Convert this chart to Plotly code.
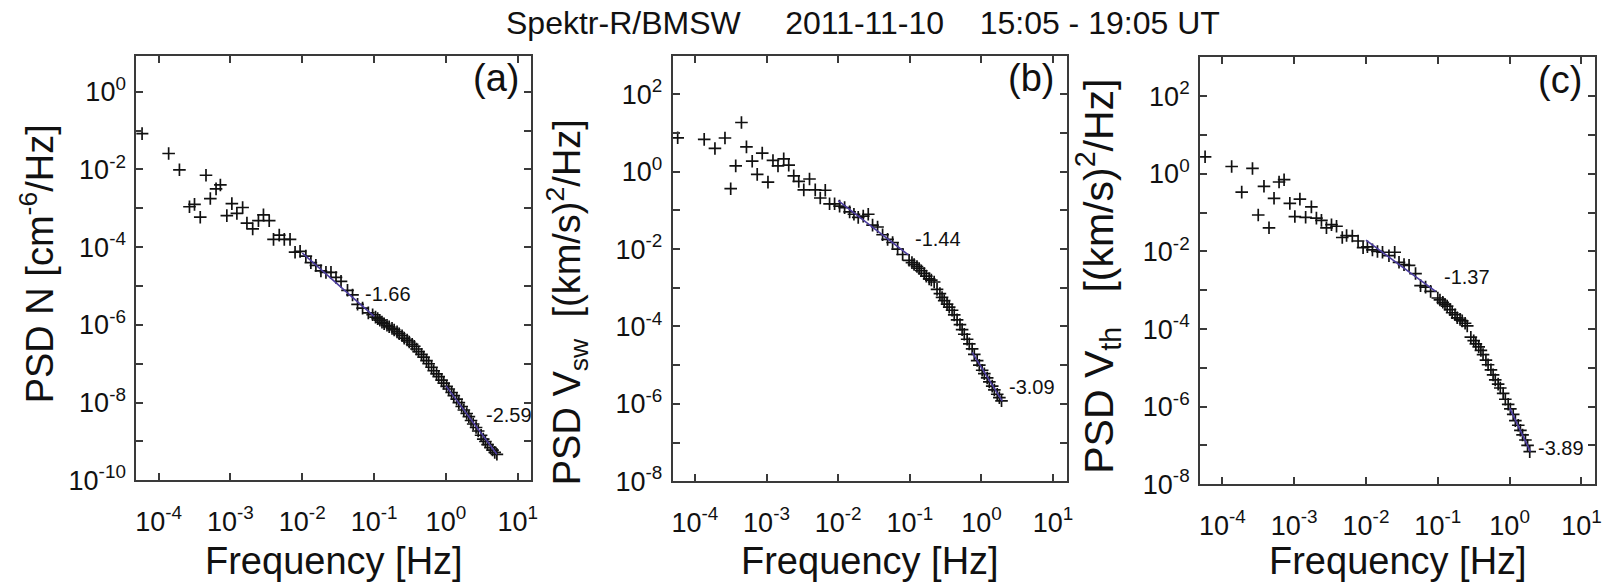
import numpy as np
import plotly.graph_objects as go

W, H = 1621, 584
FONT = "Liberation Sans, Arial, Helvetica, sans-serif"

# ---------------- data (log10 values) ----------------
# Panel (a): density N
a_logf = [-4.23, -3.86, -3.71, -3.57, -3.50, -3.42, -3.34, -3.28, -3.20, -3.14,
          -3.05, -2.98, -2.91, -2.83, -2.77, -2.69, -2.61, -2.54, -2.46, -2.40,
          -2.32, -2.25, -2.17, -2.10, -2.03, -1.95, -1.88, -1.81, -1.74, -1.67,
          -1.60, -1.53, -1.46, -1.37, -1.30, -1.23, -1.16, -1.08, -1.02, -0.98,
          -0.95, -0.92, -0.89, -0.86, -0.82, -0.79, -0.75, -0.72, -0.68, -0.65,
          -0.61, -0.58, -0.54, -0.51, -0.47, -0.44, -0.41, -0.38, -0.34, -0.31,
          -0.27, -0.24, -0.20, -0.17, -0.13, -0.10, -0.06, -0.03, 0.01, 0.04,
          0.08, 0.11, 0.15, 0.18, 0.22, 0.25, 0.29, 0.32, 0.35, 0.38,
          0.42, 0.45, 0.49, 0.52, 0.55, 0.58, 0.62, 0.65, 0.68, 0.71]
a_logpsd = [-1.08, -1.59, -2.01, -2.96, -2.90, -3.23, -2.15, -2.75, -2.50, -2.40,
            -3.19, -2.88, -3.13, -2.98, -3.38, -3.53, -3.32, -3.17, -3.32, -3.80,
            -3.69, -3.80, -3.80, -4.13, -4.11, -4.23, -4.40, -4.47, -4.61, -4.65,
            -4.65, -4.78, -4.88, -5.11, -5.23, -5.47, -5.57, -5.69, -5.74, -5.80,
            -5.84, -5.88, -5.93, -5.97, -6.01, -6.05, -6.09, -6.13, -6.18, -6.23,
            -6.28, -6.34, -6.39, -6.44, -6.50, -6.55, -6.62, -6.69, -6.76, -6.83,
            -6.92, -7.00, -7.09, -7.18, -7.26, -7.33, -7.42, -7.50, -7.58, -7.65,
            -7.74, -7.82, -7.91, -8.00, -8.10, -8.19, -8.28, -8.36, -8.46, -8.55,
            -8.64, -8.73, -8.84, -8.94, -9.00, -9.08, -9.16, -9.22, -9.28, -9.33]

# Panel (b): solar wind velocity
b_logf = [-4.24, -3.87, -3.72, -3.58, -3.50, -3.43, -3.35, -3.28, -3.20, -3.13,
          -3.06, -2.98, -2.91, -2.84, -2.76, -2.69, -2.62, -2.55, -2.48, -2.40,
          -2.32, -2.25, -2.18, -2.12, -2.05, -1.98, -1.91, -1.84, -1.78, -1.72,
          -1.65, -1.58, -1.52, -1.45, -1.38, -1.31, -1.24, -1.17, -1.10, -1.01,
          -0.97, -0.94, -0.90, -0.87, -0.84, -0.80, -0.77, -0.73, -0.70, -0.66,
          -0.62, -0.58, -0.55, -0.52, -0.48, -0.45, -0.41, -0.38, -0.34, -0.30,
          -0.27, -0.24, -0.20, -0.17, -0.13, -0.10, -0.06, -0.03, 0.01, 0.04,
          0.08, 0.11, 0.15, 0.18, 0.22, 0.25, 0.28]
b_logpsd = [0.875, 0.835, 0.60, 0.87, -0.44, 0.15, 1.27, 0.64, 0.27, -0.07,
            0.48, -0.27, 0.29, 0.15, 0.33, 0.17, -0.11, -0.25, -0.47, -0.19,
            -0.47, -0.68, -0.48, -0.83, -0.83, -0.89, -0.93, -1.04, -1.10, -1.18,
            -1.15, -1.10, -1.38, -1.43, -1.63, -1.75, -1.83, -2.00, -2.14, -2.29,
            -2.35, -2.40, -2.45, -2.50, -2.56, -2.63, -2.70, -2.77, -2.80, -2.85,
            -3.04, -3.15, -3.25, -3.33, -3.42, -3.50, -3.58, -3.70, -3.83, -3.95,
            -4.08, -4.20, -4.33, -4.45, -4.58, -4.72, -4.88, -5.00, -5.13, -5.22,
            -5.33, -5.43, -5.54, -5.64, -5.75, -5.84, -5.92]

# Panel (c): thermal velocity
c_logf = [-4.24, -3.87, -3.73, -3.58, -3.50, -3.42, -3.35, -3.28, -3.21, -3.14,
          -3.06, -2.99, -2.92, -2.84, -2.76, -2.69, -2.62, -2.55, -2.48, -2.41,
          -2.33, -2.27, -2.19, -2.11, -2.04, -1.98, -1.91, -1.84, -1.77, -1.68,
          -1.60, -1.54, -1.47, -1.40, -1.31, -1.24, -1.17, -1.10, -1.00, -0.97,
          -0.93, -0.90, -0.87, -0.83, -0.80, -0.76, -0.73, -0.69, -0.66, -0.62,
          -0.59, -0.54, -0.50, -0.47, -0.43, -0.40, -0.37, -0.33, -0.30, -0.26,
          -0.23, -0.20, -0.16, -0.13, -0.09, -0.06, -0.02, 0.01, 0.05, 0.08,
          0.12, 0.15, 0.18, 0.22, 0.25, 0.28]
c_logpsd = [0.44, 0.19, -0.47, 0.14, -1.06, -0.32, -1.39, -0.63, -0.21, -0.15,
            -0.76, -1.10, -0.65, -1.12, -0.85, -1.14, -1.20, -1.39, -1.31, -1.35,
            -1.64, -1.59, -1.60, -1.73, -1.90, -1.88, -1.96, -2.00, -2.02, -2.11,
            -2.02, -2.28, -2.34, -2.36, -2.57, -2.88, -2.92, -3.03, -3.20, -3.25,
            -3.31, -3.36, -3.41, -3.50, -3.58, -3.63, -3.71, -3.75, -3.79, -3.85,
            -3.92, -4.21, -4.30, -4.38, -4.46, -4.55, -4.66, -4.80, -4.92, -5.05,
            -5.18, -5.31, -5.42, -5.52, -5.66, -5.81, -5.94, -6.06, -6.20, -6.36,
            -6.48, -6.61, -6.73, -6.86, -7.00, -7.16]

# Power-law fit segments (end points, log10) and their slopes
a_fit_logf = [[-2.0, -1.0], [0.0, 0.71]]
a_fit_logpsd = [[-4.15, -5.78], [-7.57, -9.33]]
b_fit_logf = [[-2.0, -1.02], [-0.13, 0.29]]
b_fit_logpsd = [[-0.75, -2.15], [-4.67, -5.93]]
c_fit_logf = [[-2.0, -1.03], [0.0, 0.29]]
c_fit_logpsd = [[-1.71, -3.03], [-6.03, -7.16]]
a_slopes = ["-1.66", "-2.59"]
b_slopes = ["-1.44", "-3.09"]
c_slopes = ["-1.37", "-3.89"]

panel_tags = ["(a)", "(b)", "(c)"]
x_tick_exps = [-4, -3, -2, -1, 0, 1]
a_y_exps = list(range(-10, 1))
bc_y_exps = list(range(-8, 3))

NB = "\u00a0"
title_text = "Spektr-R/BMSW" + NB * 5 + "2011-11-10" + NB * 4 + "15:05 - 19:05 UT"
y_titles = ["PSD N [cm<sup>-6</sup>/Hz]",
            "PSD V<sub>sw</sub>" + NB * 2 + "[(km/s)<sup>2</sup>/Hz]",
            "PSD V<sub>th</sub>" + NB * 3 + "[(km/s)<sup>2</sup>/Hz]"]
x_title = "Frequency [Hz]"

# ---------------- layout geometry (pixels) ----------------
boxes = [(136, 533, 57, 493), (675, 1071, 57, 494), (1205, 1602, 59, 497)]
y_ranges = [[-10, 0.93], [-8, 3], [-8, 3]]
x_range = [-4.31, 1.19]

def p2x(px):
    return px / W

def p2y(py):
    return 1 - py / H

def sup_label(e):
    return "10<sup>%d</sup>" % e

fig = go.Figure()

panels = [
    (a_logf, a_logpsd, a_fit_logf, a_fit_logpsd, a_slopes, a_y_exps),
    (b_logf, b_logpsd, b_fit_logf, b_fit_logpsd, b_slopes, bc_y_exps),
    (c_logf, c_logpsd, c_fit_logf, c_fit_logpsd, c_slopes, bc_y_exps),
]
slope_pos = [[(-0.80, -5.20), (0.88, -8.33)],
             [(-0.60, -1.74), (0.70, -5.56)],
             [(-0.59, -2.66), (0.72, -7.06)]]
ytitle_pos = [(36.5, 271), (569, 310), (1102.5, 284)]
ytitle_size = [38, 38, 41]

annotations = []
for i, (lf, lp, ff, fp, sl, yexps) in enumerate(panels):
    n = "" if i == 0 else str(i + 1)
    xa, ya = "x" + n, "y" + n
    fig.add_trace(go.Scatter(
        x=np.power(10.0, lf), y=np.power(10.0, lp), mode="markers",
        marker=dict(symbol="cross-thin", size=9, line=dict(width=1.7, color="#111111")),
        xaxis=xa, yaxis=ya, showlegend=False, hoverinfo="x+y"))
    for seg_f, seg_p in zip(ff, fp):
        fig.add_trace(go.Scatter(
            x=np.power(10.0, seg_f), y=np.power(10.0, seg_p), mode="lines",
            line=dict(color="#4b3c9e", width=1.6),
            xaxis=xa, yaxis=ya, showlegend=False, hoverinfo="skip"))
    x0, x1, y0, y1 = boxes[i]
    axis_common = dict(type="log", showgrid=False, zeroline=False,
                       showline=True, linecolor="#3a3a3a", linewidth=2,
                       mirror="ticks", ticks="inside", ticklen=7, tickwidth=1.5,
                       tickcolor="#3a3a3a",
                       tickfont=dict(family=FONT, size=27, color="#111111"))
    fig.layout["xaxis" + n] = dict(
        axis_common, domain=[p2x(x0), p2x(x1)], range=x_range, anchor=ya,
        tickvals=[10.0 ** e for e in x_tick_exps],
        ticktext=[sup_label(e) for e in x_tick_exps], ticklabelstandoff=16)
    fig.layout["yaxis" + n] = dict(
        axis_common, domain=[p2y(y1), p2y(y0)], range=y_ranges[i], anchor=xa,
        tickvals=[10.0 ** e for e in yexps],
        ticktext=[sup_label(e) if e % 2 == 0 else "" for e in yexps],
        ticklabelstandoff=3)
    # slope labels
    for txt, (ax_, ay_) in zip(sl, slope_pos[i]):
        annotations.append(dict(x=ax_, y=ay_, xref=xa, yref=ya, text=txt,
                                showarrow=False, xanchor="center", yanchor="middle",
                                font=dict(family=FONT, size=20, color="#111111")))
    # panel tag
    annotations.append(dict(x=0.91, y=0.948, xref=xa + " domain", yref=ya + " domain",
                            text=panel_tags[i], showarrow=False,
                            xanchor="center", yanchor="middle",
                            font=dict(family=FONT, size=38, color="#111111")))
    # x title
    annotations.append(dict(x=0.5, y=p2y(576), xref=xa + " domain", yref="paper",
                            text=x_title, showarrow=False,
                            xanchor="center", yanchor="middle",
                            font=dict(family=FONT, size=38, color="#111111")))
    # y title
    tx, ty = ytitle_pos[i]
    annotations.append(dict(x=p2x(tx), y=p2y(ty), xref="paper", yref="paper",
                            text=y_titles[i], showarrow=False, textangle=-90,
                            xanchor="center", yanchor="middle",
                            font=dict(family=FONT, size=ytitle_size[i], color="#111111")))

annotations.append(dict(x=p2x(866), y=p2y(24), xref="paper", yref="paper",
                        text=title_text, showarrow=False,
                        xanchor="center", yanchor="middle",
                        font=dict(family=FONT, size=32, color="#111111")))

fig.update_layout(width=W, height=H, margin=dict(l=0, r=0, t=0, b=0),
                  paper_bgcolor="white", plot_bgcolor="white",
                  annotations=annotations, showlegend=False)

fig.write_html("out.html")
